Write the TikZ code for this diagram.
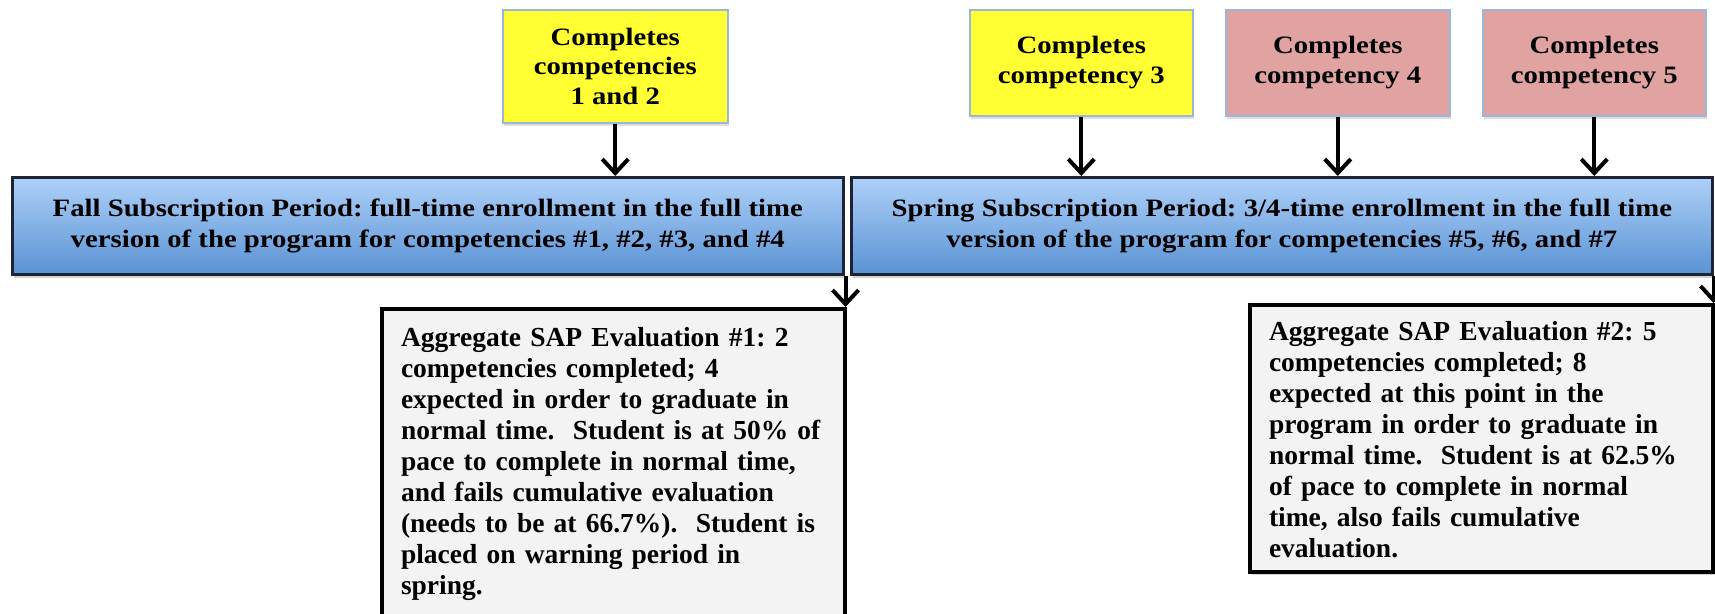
\documentclass[tikz,border=0pt]{standalone}
\usepackage{fontspec}
\setmainfont{Liberation Serif}
\newfontfamily\hdfont[FakeStretch=1.15]{Liberation Serif}
\usetikzlibrary{arrows.meta,shadows}
\definecolor{yelfill}{HTML}{FFFF33}
\definecolor{pinkfill}{HTML}{E0A3A2}
\definecolor{topedge}{HTML}{9AB6D8}
\definecolor{bluetop}{HTML}{AED0F8}
\definecolor{bluebot}{HTML}{5A93D4}
\definecolor{blueedge}{HTML}{1E2433}
\definecolor{aggfill}{HTML}{F3F3F3}
\frenchspacing
\tikzset{
  compbox/.style={draw=topedge, line width=1.5pt, anchor=north west, inner sep=0pt,
    align=center, font=\hdfont\bfseries\fontsize{25}{29.5}\selectfont,
    drop shadow={shadow xshift=1.5pt, shadow yshift=-3pt, opacity=0.25}},
  yelbox/.style={compbox, fill=yelfill},
  pinkbox/.style={compbox, fill=pinkfill},
  periodbox/.style={draw=blueedge, line width=2.5pt, anchor=north west, inner sep=0pt,
    top color=bluetop, bottom color=bluebot, align=center,
    font=\hdfont\bfseries\fontsize{25}{31}\selectfont,
    drop shadow={shadow xshift=2pt, shadow yshift=-4pt, opacity=0.35}},
  aggbox/.style={draw=black, line width=4pt, fill=aggfill, anchor=north west,
    inner xsep=19pt, inner ysep=14pt, text width=425pt, align=left,
    font=\bfseries\fontsize{27.5}{31}\selectfont,
    drop shadow={shadow xshift=2pt, shadow yshift=-3pt, opacity=0.3}},
  arr/.style={line width=4pt, -{Straight Barb[length=14pt,width=26pt]}}
}
\begin{document}
\begin{tikzpicture}[x=1pt,y=-1pt]
\useasboundingbox (0,0) rectangle (1715,613);
\fill[white] (0,0) rectangle (1715,613);

\node[yelbox, minimum width=225pt, minimum height=113pt] (c12) at (502,9)
  {Completes\\competencies\\1 and 2};
\node[yelbox, minimum width=223pt, minimum height=106pt] (c3) at (969,9)
  {Completes\\competency 3};
\node[pinkbox, minimum width=224pt, minimum height=106pt] (c4) at (1225,9)
  {Completes\\competency 4};
\node[pinkbox, minimum width=223pt, minimum height=106pt] (c5) at (1482,9)
  {Completes\\competency 5};

\node[periodbox, minimum width=831pt, minimum height=97pt] (fall) at (11,176)
  {Fall Subscription Period: full-time enrollment in the full time\\
   version of the program for competencies \#1, \#2, \#3, and \#4};
\node[periodbox, minimum width=861pt, minimum height=97pt] (spring) at (850,176)
  {Spring Subscription Period: 3/4-time enrollment in the full time\\
   version of the program for competencies \#5, \#6, and \#7};

\node[aggbox, inner ysep=16pt] (agg1) at (380,307)
  {\strut Aggregate SAP Evaluation \#1: 2\\
   competencies completed; 4\\
   expected in order to graduate in\\
   normal time.\ \ Student is at 50\% of\\
   pace to complete in normal time,\\
   and fails cumulative evaluation\\
   (needs to be at 66.7\%).\ \ Student is\\
   placed on warning period in\\
   spring.};
\node[aggbox] (agg2) at (1248,303)
  {\strut Aggregate SAP Evaluation \#2: 5\\
   competencies completed; 8\\
   expected at this point in the\\
   program in order to graduate in\\
   normal time.\ \ Student is at 62.5\%\\
   of pace to complete in normal\\
   time, also fails cumulative\\
   evaluation.};

\draw[arr] (c12.south) -- (fall.north -| c12.south);
\draw[arr] (c3.south) -- (spring.north -| c3.south);
\draw[arr] (c4.south) -- (spring.north -| c4.south);
\draw[arr] (c5.south) -- (spring.north -| c5.south);
\coordinate (f1) at ([xshift=1pt]fall.south east);
\draw[arr] (f1) -- (f1 |- agg1.north);
\coordinate (s1) at (spring.south east);
\draw[arr] (s1) -- (s1 |- agg2.north);
\end{tikzpicture}
\end{document}
